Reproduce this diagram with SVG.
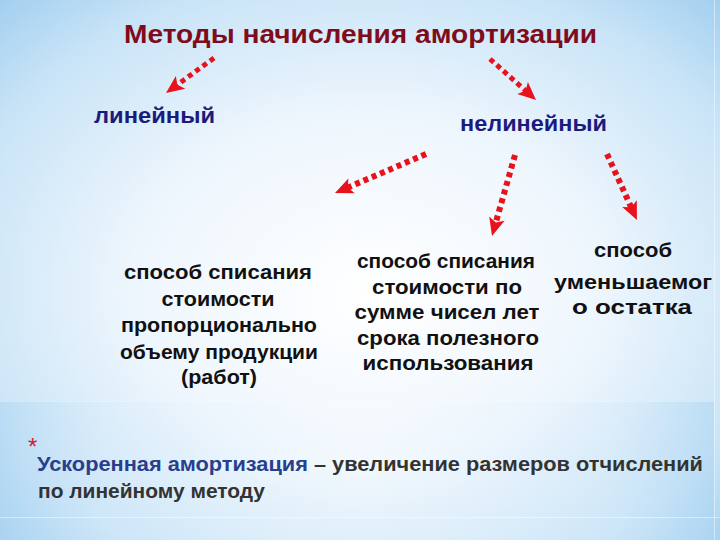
<svg xmlns="http://www.w3.org/2000/svg" width="720" height="540" viewBox="0 0 720 540">
  <defs>
    <radialGradient id="bg" cx="50%" cy="52%" r="72%" fx="52%" fy="55%">
      <stop offset="0" stop-color="#ffffff"/>
      <stop offset="0.45" stop-color="#eef6fd"/>
      <stop offset="0.8" stop-color="#c9e4f7"/>
      <stop offset="1" stop-color="#a3d0f0"/>
    </radialGradient>
    <linearGradient id="band" x1="0" y1="0" x2="1" y2="0">
      <stop offset="0" stop-color="#a9d3f1" stop-opacity="0.5"/>
      <stop offset="0.15" stop-color="#d6eafa" stop-opacity="0.3"/>
      <stop offset="0.5" stop-color="#ffffff" stop-opacity="0.2"/>
      <stop offset="0.85" stop-color="#d6eafa" stop-opacity="0.3"/>
      <stop offset="1" stop-color="#a9d3f1" stop-opacity="0.5"/>
    </linearGradient>
    <marker id="ah" markerUnits="userSpaceOnUse" markerWidth="22" markerHeight="20" viewBox="0 0 22 20" refX="9" refY="10" orient="auto">
      <path d="M20,10 L2,2 L6,10 L2,18 Z" fill="#e8121c"/>
    </marker>
    <style>
      .title { font-family: "Liberation Sans", Arial, sans-serif; font-weight: bold; font-size: 26px; fill: #7e0c1d; }
      .lvl { font-family: "Liberation Sans", Arial, sans-serif; font-weight: bold; font-size: 22px; fill: #1b1b7e; }
      .body { font-family: "Liberation Sans", Arial, sans-serif; font-weight: bold; font-size: 21px; fill: #111111; text-anchor: middle; }
      .note { font-family: "Liberation Sans", Arial, sans-serif; font-weight: bold; font-size: 21px; fill: #333333; }
      .arr { fill: none; stroke: #e8121c; stroke-dasharray: 5 4; marker-end: url(#ah); }
    </style>
  </defs>

  <rect x="0" y="0" width="720" height="540" fill="url(#bg)"/>
  <rect x="0" y="401" width="714" height="116" fill="url(#band)"/>
  <line x1="0" y1="401.5" x2="714" y2="401.5" stroke="#ffffff" stroke-opacity="0.3" stroke-width="1"/>
  <rect x="0" y="517" width="720" height="23" fill="url(#band)"/>
  <line x1="0" y1="517.5" x2="720" y2="517.5" stroke="#ffffff" stroke-opacity="0.45" stroke-width="1"/>
  <line x1="714.5" y1="0" x2="714.5" y2="540" stroke="#ffffff" stroke-opacity="0.45" stroke-width="1"/>

  <g id="title">
    <text class="title" x="124" y="43" textLength="473" lengthAdjust="spacingAndGlyphs">Методы начисления амортизации</text>
  </g>

  <g id="linear">
    <text class="lvl" x="94" y="123" textLength="121" lengthAdjust="spacingAndGlyphs">линейный</text>
  </g>

  <g id="nonlinear">
    <text class="lvl" x="460" y="131" textLength="147" lengthAdjust="spacingAndGlyphs">нелинейный</text>
  </g>

  <g id="method-volume">
    <text class="body" x="218" y="279" font-size="23" textLength="188" lengthAdjust="spacingAndGlyphs">способ списания</text>
    <text class="body" x="218" y="305.5" font-size="23" textLength="113" lengthAdjust="spacingAndGlyphs">стоимости</text>
    <text class="body" x="219" y="332" font-size="23" textLength="196" lengthAdjust="spacingAndGlyphs">пропорционально</text>
    <text class="body" x="219" y="358.5" font-size="23" textLength="198" lengthAdjust="spacingAndGlyphs">объему продукции</text>
    <text class="body" x="219" y="384" font-size="23" textLength="76" lengthAdjust="spacingAndGlyphs">(работ)</text>
  </g>

  <g id="method-sum-years">
    <text class="body" x="446" y="268" textLength="178" lengthAdjust="spacingAndGlyphs">способ списания</text>
    <text class="body" x="447" y="293.5" textLength="150" lengthAdjust="spacingAndGlyphs">стоимости по</text>
    <text class="body" x="447" y="319" textLength="185" lengthAdjust="spacingAndGlyphs">сумме чисел лет</text>
    <text class="body" x="448" y="344.5" textLength="182" lengthAdjust="spacingAndGlyphs">срока полезного</text>
    <text class="body" x="448" y="370" textLength="171" lengthAdjust="spacingAndGlyphs">использования</text>
  </g>

  <g id="method-declining">
    <text class="body" x="633" y="257" font-size="22.6" textLength="78" lengthAdjust="spacingAndGlyphs">способ</text>
    <text class="body" x="633" y="289" font-size="22.6" textLength="158" lengthAdjust="spacingAndGlyphs">уменьшаемог</text>
    <text class="body" x="632" y="314" font-size="22.6" textLength="120" lengthAdjust="spacingAndGlyphs">о остатка</text>
  </g>

  <g id="connectors">
    <line class="arr" x1="214" y1="58" x2="174.9" y2="86.5" stroke-width="5"/>
    <line class="arr" x1="490" y1="59" x2="527.8" y2="92.7" stroke-width="5"/>
    <line class="arr" x1="426" y1="154" x2="345.1" y2="188.7" stroke-width="6"/>
    <line class="arr" x1="515" y1="155" x2="495" y2="225.4" stroke-width="6"/>
    <line class="arr" x1="607" y1="154" x2="632.4" y2="210" stroke-width="6"/>
  </g>

  <g id="note">
    <text x="28" y="455" font-family="Liberation Sans, Arial, sans-serif" font-size="24" fill="#d0203a">*</text>
    <text class="note" x="37" y="471" textLength="666" lengthAdjust="spacingAndGlyphs"><tspan fill="#283f8c">Ускоренная амортизация</tspan> – увеличение размеров отчислений</text>
    <text class="note" x="38" y="498" textLength="227" lengthAdjust="spacingAndGlyphs">по линейному методу</text>
  </g>
</svg>
